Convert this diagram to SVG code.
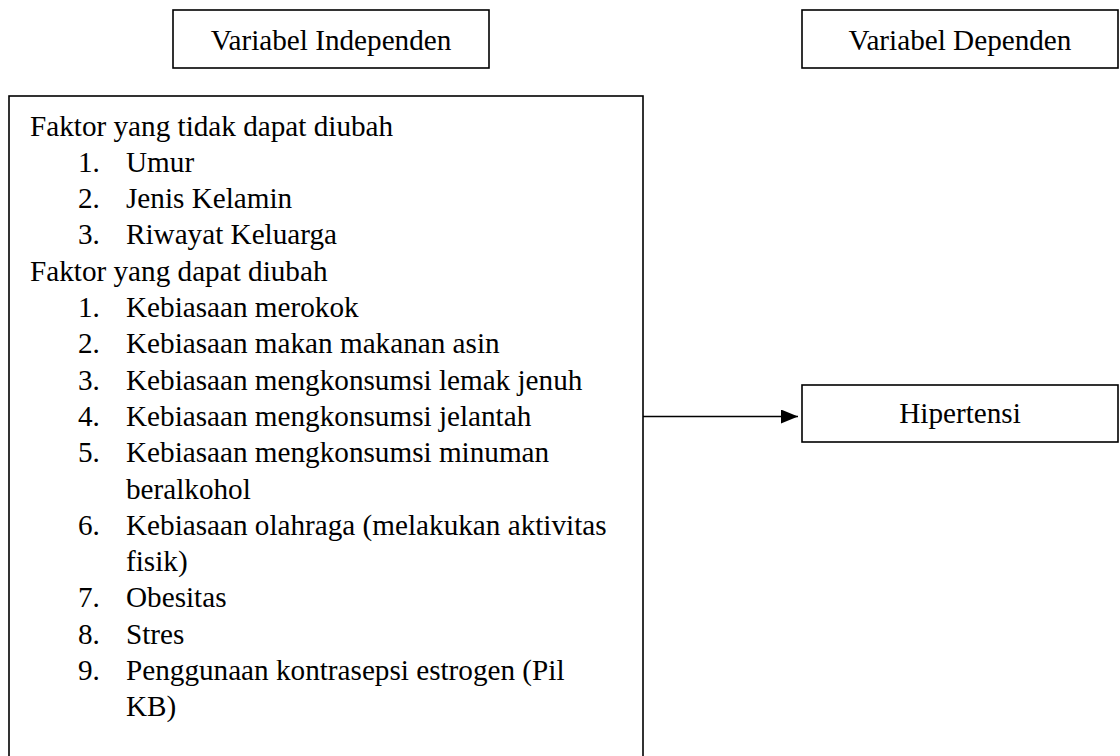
<svg xmlns="http://www.w3.org/2000/svg" width="1120" height="756" viewBox="0 0 1120 756">
<style>
.box{fill:#fff;stroke:#000;stroke-width:1.6}
text{font-family:"Liberation Serif","Times New Roman",serif;font-size:29.2px;fill:#000}
.c{text-anchor:middle}
.conn{stroke:#000;stroke-width:1.6;fill:none}
</style>
<defs>
<marker id="arr" markerWidth="18" markerHeight="14" refX="17" refY="7" orient="auto" markerUnits="userSpaceOnUse">
<path d="M0,0 L17,7 L0,14 Z" fill="#000"/>
</marker>
</defs>
<rect width="1120" height="756" fill="#fff"/>
<g id="node-independen">
<rect class="box" x="173" y="10" width="316" height="58"/>
<text class="c" x="331" y="50">Variabel Independen</text>
</g>
<g id="node-dependen">
<rect class="box" x="802" y="10" width="316" height="58"/>
<text class="c" x="960" y="50">Variabel Dependen</text>
</g>
<g id="node-faktor">
<rect class="box" x="9" y="96" width="634" height="700"/>
<text x="30" y="135.5">Faktor yang tidak dapat diubah</text>
<text x="78" y="171.8">1.</text><text x="126" y="171.8">Umur</text>
<text x="78" y="208.1">2.</text><text x="126" y="208.1">Jenis Kelamin</text>
<text x="78" y="244.4">3.</text><text x="126" y="244.4">Riwayat Keluarga</text>
<text x="30" y="280.7">Faktor yang dapat diubah</text>
<text x="78" y="317">1.</text><text x="126" y="317">Kebiasaan merokok</text>
<text x="78" y="353.3">2.</text><text x="126" y="353.3">Kebiasaan makan makanan asin</text>
<text x="78" y="389.6">3.</text><text x="126" y="389.6">Kebiasaan mengkonsumsi lemak jenuh</text>
<text x="78" y="425.9">4.</text><text x="126" y="425.9">Kebiasaan mengkonsumsi jelantah</text>
<text x="78" y="462.2">5.</text><text x="126" y="462.2">Kebiasaan mengkonsumsi minuman</text>
<text x="126" y="498.5">beralkohol</text>
<text x="78" y="534.8">6.</text><text x="126" y="534.8">Kebiasaan olahraga (melakukan aktivitas</text>
<text x="126" y="571.1">fisik)</text>
<text x="78" y="607.4">7.</text><text x="126" y="607.4">Obesitas</text>
<text x="78" y="643.7">8.</text><text x="126" y="643.7">Stres</text>
<text x="78" y="680">9.</text><text x="126" y="680">Penggunaan kontrasepsi estrogen (Pil</text>
<text x="126" y="716.3">KB)</text>
</g>
<g id="node-hipertensi">
<rect class="box" x="802" y="385" width="316" height="57"/>
<text class="c" x="960" y="423">Hipertensi</text>
</g>
<g id="connectors">
<line class="conn" x1="643" y1="416.5" x2="798" y2="416.5" marker-end="url(#arr)"/>
</g>
</svg>
